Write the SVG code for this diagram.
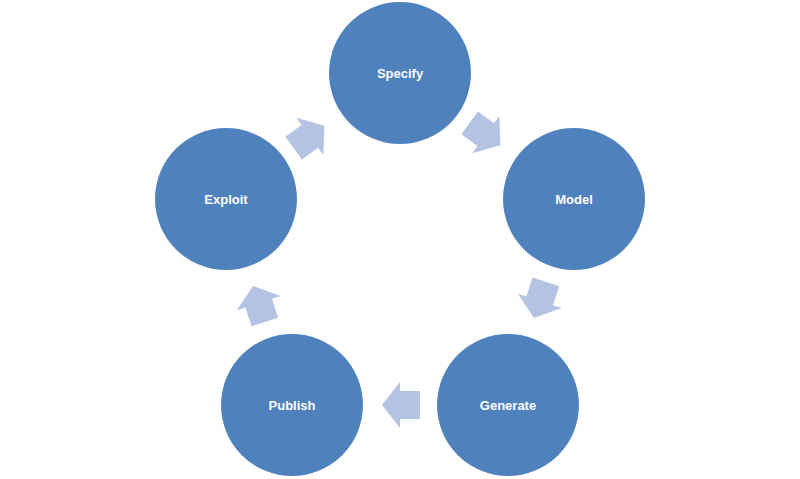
<svg xmlns="http://www.w3.org/2000/svg" width="800" height="479" viewBox="0 0 800 479">
<style>
.node{fill:#4F81BD;}
.arr{fill:#B4C3E2;}
.lbl{font-family:"Liberation Sans",Arial,sans-serif;font-weight:bold;font-size:13px;fill:#FFFFFF;text-anchor:middle;dominant-baseline:central;}
</style>
<defs>
<path id="blk" d="M-19,-14 L1,-14 L1,-23 L19,0 L1,23 L1,14 L-19,14 Z"/>
</defs>
<rect width="800" height="479" fill="#FFFFFF"/>
<g id="connectors">
<use href="#blk" class="arr" transform="translate(485,134) rotate(36)"/>
<use href="#blk" class="arr" transform="translate(540,300) rotate(108)"/>
<use href="#blk" class="arr" transform="translate(401,405) rotate(180)"/>
<use href="#blk" class="arr" transform="translate(259,304) rotate(252)"/>
<use href="#blk" class="arr" transform="translate(309,137) rotate(324)"/>
</g>
<g id="specify"><circle class="node" cx="400" cy="73" r="71"/><text class="lbl" x="400" y="73">Specify</text></g>
<g id="model"><circle class="node" cx="574" cy="199" r="71"/><text class="lbl" x="574" y="199">Model</text></g>
<g id="generate"><circle class="node" cx="508" cy="405" r="71"/><text class="lbl" x="508" y="405">Generate</text></g>
<g id="publish"><circle class="node" cx="292" cy="405" r="71"/><text class="lbl" x="292" y="405">Publish</text></g>
<g id="exploit"><circle class="node" cx="226" cy="199" r="71"/><text class="lbl" x="226" y="199">Exploit</text></g>
</svg>
